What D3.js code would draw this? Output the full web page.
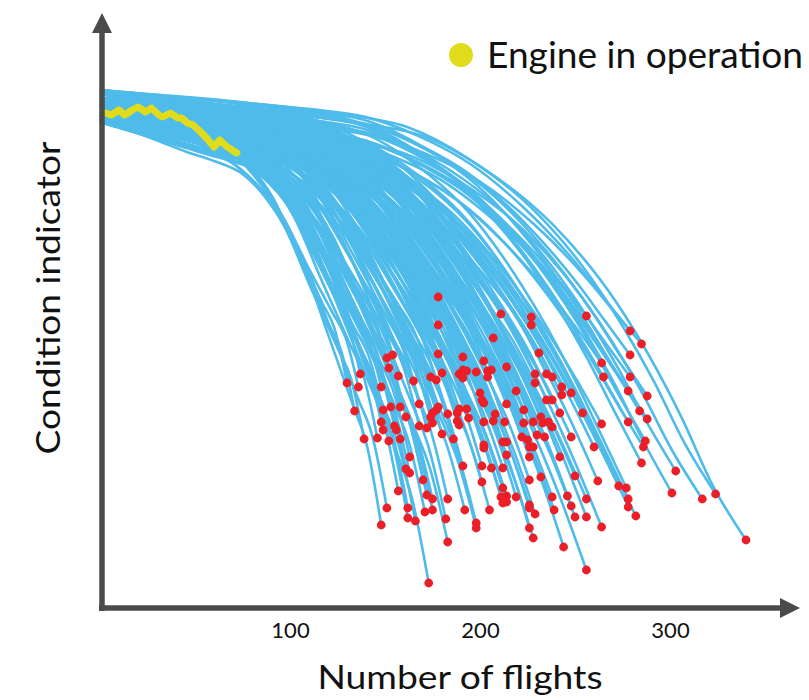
<!DOCTYPE html>
<html>
<head>
<meta charset="utf-8">
<script src="https://cdn.jsdelivr.net/npm/d3@7"></script>
<style>
  html, body { margin: 0; padding: 0; background: #fff; }
  svg { display: block; }
</style>
</head>
<body>
<div id="chart"></div>
<script>
// flights at which each engine failed, and its condition indicator at that point (red marks)
const failureFlights = [
  211, 227, 227, 178, 207, 231, 178, 154, 151, 191, 202, 152, 137, 157, 130, 136, 148, 165, 174, 177,
  180, 189, 191, 193, 191, 198, 204, 206, 204, 214, 229, 229, 235, 219, 200, 201, 202, 235, 214, 223,
  134, 149, 153, 158, 168, 178, 177, 175, 189, 193, 188, 183, 161, 148, 149, 155, 156, 168, 172, 174,
  175, 188, 189, 194, 202, 208, 207, 213, 228, 232, 233, 223, 230, 234, 222, 225, 226, 228, 139, 146,
  152, 158, 180, 186, 202, 202, 212, 214, 214, 226, 163, 256, 279, 285, 279, 264, 238, 265, 279, 243,
  243, 248, 238, 278, 288, 242, 254, 284, 288, 236, 238, 264, 278, 248, 287, 286, 260, 242, 191, 201,
  206, 212, 161, 163, 170, 201, 226, 232, 212, 157, 172, 175, 183, 211, 212, 214, 214, 219, 226, 226,
  229, 151, 162, 171, 175, 192, 205, 162, 166, 182, 198, 198, 226, 228, 148, 183, 173, 285, 250, 262,
  303, 273, 277, 238, 246, 256, 278, 248, 239, 278, 301, 317, 324, 250, 256, 282, 264, 244, 256, 340,
  178
];
const failureLevels = [
  59.2, 58.6, 57.0, 57.0, 54.4, 51.4, 51.2, 51.0, 50.4, 50.6, 49.8, 48.4, 47.2, 46.8, 45.4, 44.6, 44.6, 45.8, 46.6, 46.0,
  47.4, 47.2, 48.0, 47.8, 46.4, 47.6, 47.8, 48.0, 46.6, 48.6, 47.2, 45.4, 47.2, 43.8, 43.4, 42.0, 41.4, 42.0, 41.2, 40.0,
  39.8, 40.0, 40.6, 40.6, 41.2, 40.6, 40.0, 39.4, 40.2, 40.2, 39.4, 39.2, 38.6, 37.6, 36.0, 36.8, 36.0, 36.8, 36.4, 38.6,
  37.4, 37.8, 37.0, 38.4, 37.6, 39.2, 37.8, 37.6, 37.6, 38.6, 37.4, 37.4, 35.0, 34.6, 34.6, 34.0, 32.6, 32.6, 34.2, 34.4,
  33.8, 34.2, 35.2, 34.2, 33.0, 32.4, 33.6, 33.6, 31.0, 30.6, 30.6, 58.8, 55.8, 53.2, 51.0, 49.4, 46.6, 46.6, 46.6, 44.6,
  43.0, 43.4, 42.0, 43.8, 42.8, 39.4, 39.4, 39.8, 38.2, 37.6, 36.6, 37.2, 37.6, 34.6, 33.8, 32.6, 32.6, 30.6, 28.8, 28.8,
  28.4, 28.4, 28.2, 27.4, 26.0, 25.6, 26.0, 26.6, 24.4, 23.8, 23.0, 22.2, 22.2, 22.6, 21.4, 22.8, 21.6, 22.6, 21.0, 20.4,
  19.2, 20.4, 20.4, 19.6, 20.0, 20.0, 20.0, 18.4, 17.8, 18.2, 17.4, 16.4, 16.4, 14.4, 17.0, 13.6, 5.4, 29.4, 26.8, 25.8,
  27.8, 24.8, 24.4, 22.6, 22.8, 22.2, 22.2, 20.8, 20.0, 20.6, 23.4, 22.2, 23.2, 18.6, 18.6, 18.8, 16.6, 12.6, 8.0, 14.0,
  62.6
];

// condition indicator at the first flight, read from the left edge of the bundle
const startLevels = [101.2, 98.2, 103.4, 99.6, 102.4, 97.6, 100.6, 104.0, 99.0, 101.8];

// share of the total loss reached at each fraction of the engine's life,
// read from the shortest-lived and the longest-lived trajectories
const lifeFraction  = [0, 0.1, 0.2, 0.3, 0.4, 0.5, 0.6, 0.7, 0.8, 0.9, 0.95, 1];
const dropShortLife = [0, 0.03, 0.06, 0.09, 0.115, 0.15, 0.23, 0.35, 0.54, 0.72, 0.81, 1];
const dropLongLife  = [0, 0.008, 0.016, 0.03, 0.05, 0.08, 0.16, 0.28, 0.46, 0.72, 0.88, 1];

// the engine still in operation (yellow)
const operatingFlights = [3, 6, 10, 13, 17, 20, 24, 27, 31, 33, 37, 41, 43, 46, 49, 53, 56, 60, 63, 67, 72];
const operatingLevels = [99.4, 99, 100, 99, 100, 100.6, 99.6, 100.4, 99, 98.6, 99.4, 98.4, 98.4, 97.4, 97, 95.6, 94.4, 92.6, 94, 92.6, 91.4];

const xTicks = [100, 200, 300];

const width = 809;
const height = 700;
const font = 'Lato, "Open Sans", sans-serif';

const blue = '#4fbbea';
const red = '#ec1f28';
const yellow = '#e0dc1c';
const axisGray = '#4b4b4b';

const x = d3.scaleLinear()
    .domain([0, 360])
    .range([100, 784]);

const y = d3.scaleLinear()
    .domain([0, 120])
    .range([610, 10]);

const svg = d3.select('#chart')
    .append('svg')
    .attr('width', width)
    .attr('height', height);

// build every trajectory from its start level, its failure point and the life profile
const [minLife, maxLife] = d3.extent(failureFlights);
const trajectories = failureFlights.map((T, i) => {
    const s = startLevels[i % startLevels.length];
    const e = failureLevels[i];
    const t = (T - minLife) / (maxLife - minLife);
    return lifeFraction.map((u, k) => {
        const drop = dropShortLife[k] * (1 - t) + dropLongLife[k] * t;
        return [u * T, s - drop * (s - e)];
    });
});

const line = d3.line()
    .x(d => x(d[0]))
    .y(d => y(d[1]))
    .curve(d3.curveMonotoneX);

svg.append('g')
    .attr('fill', 'none')
    .attr('stroke', blue)
    .attr('stroke-width', 2.6)
    .attr('stroke-linejoin', 'round')
    .selectAll('path')
    .data(trajectories)
    .join('path')
    .attr('d', line);

// failure marks
svg.append('g')
    .attr('fill', red)
    .selectAll('circle')
    .data(failureFlights.map((f, i) => [f, failureLevels[i]]))
    .join('circle')
    .attr('cx', d => x(d[0]))
    .attr('cy', d => y(d[1]))
    .attr('r', 4.4);

// engine in operation
svg.append('path')
    .datum(operatingFlights.map((f, i) => [f, operatingLevels[i]]))
    .attr('fill', 'none')
    .attr('stroke', yellow)
    .attr('stroke-width', 7)
    .attr('stroke-linejoin', 'round')
    .attr('stroke-linecap', 'round')
    .attr('d', d3.line().x(d => x(d[0])).y(d => y(d[1])));

// axes with arrow heads
const axisY = 608;
const axisX = 102;

svg.append('line')
    .attr('x1', axisX).attr('y1', axisY + 3)
    .attr('x2', axisX).attr('y2', 30)
    .attr('stroke', axisGray)
    .attr('stroke-width', 5.5);

svg.append('path')
    .attr('d', `M${axisX - 10},33 L${axisX + 10},33 L${axisX},13 Z`)
    .attr('fill', axisGray);

svg.append('line')
    .attr('x1', axisX - 3).attr('y1', axisY)
    .attr('x2', 783).attr('y2', axisY)
    .attr('stroke', axisGray)
    .attr('stroke-width', 5.5);

svg.append('path')
    .attr('d', `M780,${axisY - 10} L780,${axisY + 10} L800,${axisY} Z`)
    .attr('fill', axisGray);

const xAxis = svg.append('g')
    .attr('transform', `translate(0, ${axisY})`)
    .call(d3.axisBottom(x).tickValues(xTicks).tickSize(0).tickPadding(14));

xAxis.select('.domain').remove();
xAxis.selectAll('text')
    .attr('fill', '#111')
    .attr('font-family', font)
    .attr('font-size', '22px');

svg.append('text')
    .attr('x', 460)
    .attr('y', 689)
    .attr('text-anchor', 'middle')
    .attr('font-family', font)
    .attr('font-size', '33px')
    .attr('fill', '#111')
    .attr('textLength', 285)
    .attr('lengthAdjust', 'spacingAndGlyphs')
    .text('Number of flights');

svg.append('text')
    .attr('transform', 'translate(60, 298) rotate(-90)')
    .attr('text-anchor', 'middle')
    .attr('font-family', font)
    .attr('font-size', '33px')
    .attr('fill', '#111')
    .attr('textLength', 313)
    .attr('lengthAdjust', 'spacingAndGlyphs')
    .text('Condition indicator');

// legend
const legend = svg.append('g')
    .attr('transform', 'translate(461, 55)');

legend.append('circle')
    .attr('r', 12)
    .attr('fill', yellow);

legend.append('text')
    .attr('x', 26)
    .attr('y', 13)
    .attr('font-family', font)
    .attr('font-size', '36px')
    .attr('fill', '#111')
    .attr('textLength', 316)
    .attr('lengthAdjust', 'spacingAndGlyphs')
    .text('Engine in operation');
</script>
</body>
</html>
